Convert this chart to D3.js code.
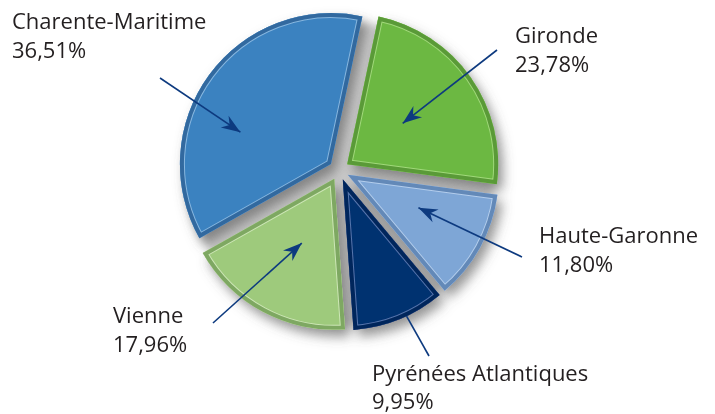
<!DOCTYPE html>
<html>
<head>
<meta charset="utf-8">
<script src="https://cdn.jsdelivr.net/npm/d3@7"></script>
<style>
  html, body { margin: 0; padding: 0; background: #ffffff; }
  svg { display: block; }
  text { font-family: "Open Sans", "Noto Sans", sans-serif; fill: #231f20; }
</style>
</head>
<body>
<svg id="chart" width="715" height="414"></svg>
<script>
// ---- data ----
const categories = ["Gironde", "Haute-Garonne", "Pyrénées Atlantiques", "Vienne", "Charente-Maritime"];
const values = [23.78, 11.80, 9.95, 17.96, 36.51];

// ---- styles / layout ----
const colors = ["#6cb843", "#7ea6d6", "#06306f", "#9eca7c", "#3b82c0"];
const bevel  = ["#5a9a37", "#6389b8", "#04275c", "#7ea862", "#31699f"];
const light  = ["#a0d87a", "#b3cdec", "#5576ad", "#cde6b6", "#86b6df"];
const W = 715, H = 414;
const cx = 339, cy = 170, R = 151, explode = 10;
const startDeg = 12;

// label anchor (left x, first baseline) and arrow start; tip given as polar (deg, radius) inside slice
const layout = {
  "Gironde":              { lx: 515, ly: 43,  ax: 497, ay: 50,  tipDeg: 53.6,  tipR: 69,  head: true },
  "Haute-Garonne":        { lx: 539, ly: 243, ax: 522, ay: 257, tipDeg: 115,   tipR: 78,  head: true },
  "Pyrénées Atlantiques": { lx: 372, ly: 381, ax: 429, ay: 356, tipDeg: 155,   tipR: 151, head: false },
  "Vienne":               { lx: 113, ly: 323, ax: 213, ay: 323, tipDeg: 206.8, tipR: 72,  head: true },
  "Charente-Maritime":    { lx: 12,  ly: 29,  ax: 160, ay: 78,  tipDeg: 289.4, tipR: 96,  head: true }
};

const svg = d3.select("#chart");
const defs = svg.append("defs");

const shadow = defs.append("filter").attr("id", "shadow")
  .attr("x", "-20%").attr("y", "-20%").attr("width", "140%").attr("height", "140%");
shadow.append("feDropShadow").attr("dx", 5).attr("dy", 7).attr("stdDeviation", 6)
  .attr("flood-color", "#555").attr("flood-opacity", 0.6);

const blur = defs.append("filter").attr("id", "blur")
  .attr("x", "-20%").attr("y", "-20%").attr("width", "140%").attr("height", "140%");
blur.append("feGaussianBlur").attr("stdDeviation", 4);

defs.append("marker").attr("id", "arrow")
  .attr("viewBox", "-20 -8 22 16").attr("refX", 0).attr("refY", 0)
  .attr("markerUnits", "userSpaceOnUse").attr("markerWidth", 22).attr("markerHeight", 16)
  .attr("orient", "auto")
  .append("path").attr("d", "M0,0 L-19,-7 L-13,0 L-19,7 Z").attr("fill", "#0d3a7f");

const rad = Math.PI / 180;
const pie = d3.pie().sort(null).value(d => d)
  .startAngle(startDeg * rad).endAngle((startDeg + 360) * rad);
const arcs = pie(values);
const arcGen = d3.arc().innerRadius(0).outerRadius(R);

// soft gray base that fills the gaps between exploded slices
svg.append("circle").attr("cx", cx + 2).attr("cy", cy + 4).attr("r", R + 2)
  .attr("fill", "#c9c9c9").attr("filter", "url(#blur)");

const pieG = svg.append("g").attr("filter", "url(#shadow)");

arcs.forEach((a, i) => {
  const mid = (a.startAngle + a.endAngle) / 2;
  const ox = cx + Math.sin(mid) * explode;
  const oy = cy - Math.cos(mid) * explode;
  a.ox = ox; a.oy = oy;
  const d = arcGen(a);
  const clipId = "clip" + i;
  defs.append("clipPath").attr("id", clipId)
    .append("path").attr("d", d);
  const g = pieG.append("g").attr("transform", `translate(${ox},${oy})`);
  g.append("path").attr("d", d).attr("fill", colors[i]);
  const cg = g.append("g").attr("clip-path", `url(#${clipId})`);
  cg.append("path").attr("d", d).attr("fill", "none")
    .attr("stroke", light[i]).attr("stroke-width", 10).attr("stroke-linejoin", "round");
  cg.append("path").attr("d", d).attr("fill", "none")
    .attr("stroke", bevel[i]).attr("stroke-width", 8).attr("stroke-linejoin", "round");
});

// arrows
const arrowG = svg.append("g");
categories.forEach((c, i) => {
  const L = layout[c];
  const a = arcs[i];
  const tx = a.ox + Math.sin(L.tipDeg * rad) * L.tipR;
  const ty = a.oy - Math.cos(L.tipDeg * rad) * L.tipR;
  const line = arrowG.append("line")
    .attr("x1", L.ax).attr("y1", L.ay).attr("x2", tx).attr("y2", ty)
    .attr("stroke", "#0d3a7f").attr("stroke-width", 1.6);
  if (L.head) line.attr("marker-end", "url(#arrow)");
});

// labels
const fmt = v => d3.format(".2f")(v).replace(".", ",") + "%";
const labG = svg.append("g");
categories.forEach((c, i) => {
  const L = layout[c];
  const t = labG.append("text").attr("x", L.lx).attr("y", L.ly).attr("font-size", 22);
  t.append("tspan").attr("x", L.lx).text(c);
  t.append("tspan").attr("x", L.lx).attr("dy", c === "Pyrénées Atlantiques" ? 28 : 29).text(fmt(values[i]));
});
</script>
</body>
</html>
